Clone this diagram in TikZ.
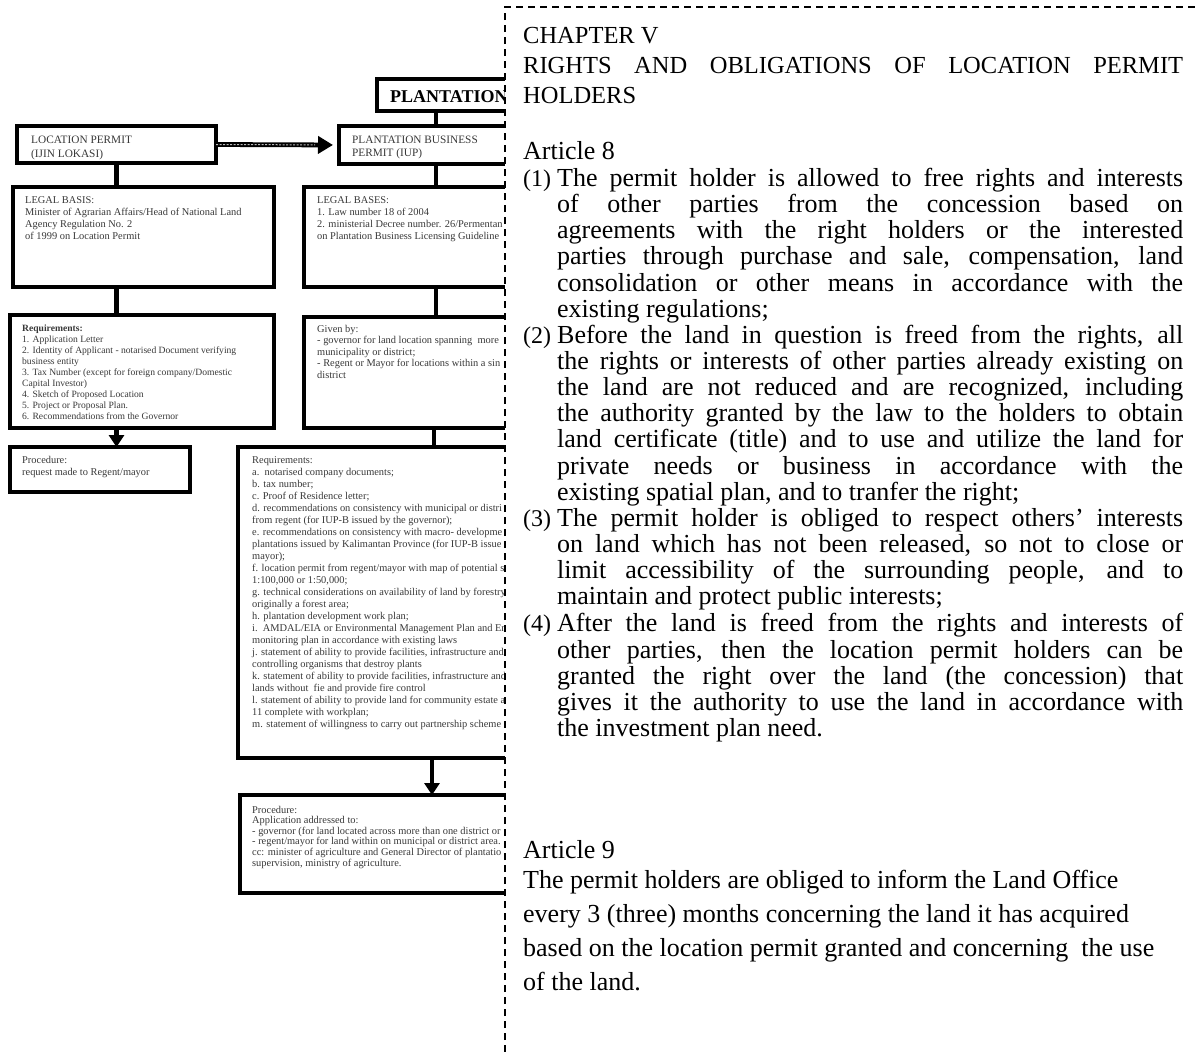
\documentclass[tikz,border=0pt]{standalone}
\usepackage{fontspec}
\newfontfamily\flowfont{Liberation Serif}
\newfontfamily\panelfont{Liberation Serif}
\usetikzlibrary{arrows.meta}

\begin{document}
\begin{tikzpicture}[x=1pt,y=-1pt,
  box/.style={draw=black, line width=3.2pt, anchor=north west, inner sep=0pt, outer sep=0pt},
  ftxt/.style={anchor=base west, inner sep=0pt, text=black!78, font=\flowfont\fontsize{10.4}{12}\selectfont},
  fhead/.style={ftxt, font=\flowfont\fontsize{11.3}{13}\selectfont},
  link/.style={line width=4.5pt},
  downarrow/.style={line width=4.5pt, -{Triangle[length=12pt,width=15pt]}},
  ptxt/.style={anchor=base west, inner sep=0pt, text=black, font=\panelfont\fontsize{26}{26}\selectfont},
  plabel/.style={ptxt, font=\panelfont\fontsize{24}{26}\selectfont},
  phead/.style={ptxt, font=\panelfont\fontsize{24.5}{26}\selectfont},
]
\useasboundingbox (0,0) rectangle (1197,1052);

% ---------------- location permit column ----------------
\node[box, minimum width=199pt, minimum height=37pt] (locbox) at (17,126) {};
\node[fhead] (loct1) at (31,143) {LOCATION PERMIT};
\node[fhead] (loct2) at (31,157) {(IJIN LOKASI)};

\node[box, minimum width=261pt, minimum height=100pt] (loclegal) at (13,187) {};
\foreach \t [count=\i] in {{LEGAL BASIS:},{Minister of Agrarian Affairs/Head of National Land},
  {Agency Regulation No. 2},{of 1999 on Location Permit}}
  \node[ftxt] (loclegal\i) at (25,{203+12.3*(\i-1)}) {\t};

\node[box, minimum width=264pt, minimum height=113pt] (locreq) at (10,315) {};
\foreach \t [count=\i] in {{\bfseries Requirements:},{1. Application Letter},
  {2. Identity of Applicant - notarised Document verifying},{business entity},
  {3. Tax Number (except for foreign company/Domestic},{Capital Investor)},
  {4. Sketch of Proposed Location},{5. Project or Proposal Plan.},
  {6. Recommendations from the Governor}}
  \node[ftxt, font=\flowfont\fontsize{9.6}{11}\selectfont] (locreq\i) at (22,{331+11*(\i-1)}) {\t};

\node[box, minimum width=180pt, minimum height=45pt] (locproc) at (10,447) {};
\node[ftxt] (locproc1) at (22,463) {Procedure:};
\node[ftxt] (locproc2) at (22,475) {request made to Regent/mayor};

\draw[link] (locbox.south) -- (locbox.south |- loclegal.north);
\draw[link] (loclegal.south -| locbox.south) -- (locreq.north -| locbox.south);
\draw[downarrow] (locreq.south -| locbox.south) -- (locproc.north -| locbox.south);

% ---------------- plantation business permit column ----------------
\coordinate (spineA) at (436,0);
\coordinate (spineB) at (434,0);
\coordinate (spineC) at (432,0);

\node[box, line width=4pt, minimum width=260pt, minimum height=32pt] (title) at (377,79) {};
\node[ftxt, text=black, font=\flowfont\bfseries\fontsize{18}{20}\selectfont] (titlet) at (390,102) {PLANTATION};

\node[box, minimum width=194pt, minimum height=38pt] (iup) at (339,126) {};
\node[fhead] (iupt1) at (352,143) {PLANTATION BUSINESS};
\node[fhead] (iupt2) at (352,156) {PERMIT (IUP)};

\node[box, minimum width=264pt, minimum height=100pt] (iuplegal) at (304,187) {};
\foreach \t [count=\i] in {{LEGAL BASES:},{1. Law number 18 of 2004},
  {2. ministerial Decree number. 26/Permentan},{on Plantation Business Licensing Guideline}}
  \node[ftxt] (iuplegal\i) at (317,{203+12*(\i-1)}) {\t};

\node[box, minimum width=264pt, minimum height=111pt] (given) at (304,317) {};
\foreach \t [count=\i] in {{Given by:},{- governor for land location spanning\ \ more},
  {municipality or district;},{- Regent or Mayor for locations within a sin},{district}}
  \node[ftxt] (given\i) at (317,{332+11.6*(\i-1)}) {\t};

\node[box, minimum width=392pt, minimum height=311pt] (iupreq) at (238,447) {};
\foreach \t [count=\i] in {{Requirements:},{a.\ \ notarised company documents;},{b. tax number;},
  {c. Proof of Residence letter;},
  {d. recommendations on consistency with municipal or distri},
  {from regent (for IUP-B issued by the governor);},
  {e. recommendations on consistency with macro- developme},
  {plantations issued by Kalimantan Province (for IUP-B issue},
  {mayor);},
  {f. location permit from regent/mayor with map of potential s},
  {1:100,000 or 1:50,000;},
  {g. technical considerations on availability of land by forestry},
  {originally a forest area;},
  {h. plantation development work plan;},
  {i.\ \ AMDAL/EIA or Environmental Management Plan and En},
  {monitoring plan in accordance with existing laws},
  {j. statement of ability to provide facilities, infrastructure and},
  {controlling organisms that destroy plants},
  {k. statement of ability to provide facilities, infrastructure and},
  {lands without\ \ fie and provide fire control},
  {l. statement of ability to provide land for community estate a},
  {11 complete with workplan;},
  {m. statement of willingness to carry out partnership scheme}}
  \node[ftxt] (iupreq\i) at (252,{463+12*(\i-1)}) {\t};

\node[box, minimum width=384pt, minimum height=98pt] (iupproc) at (240,795) {};
\foreach \t [count=\i] in {{Procedure:},{Application addressed to:},
  {- governor (for land located across more than one district or},
  {- regent/mayor for land within on municipal or district area.},
  {cc: minister of agriculture and General Director of plantatio},
  {supervision, ministry of agriculture.}}
  \node[ftxt] (iupproc\i) at (252,{813+10.6*(\i-1)}) {\t};

\draw[link] (title.south -| spineA) -- (iup.north -| spineA);
\draw[link] (iup.south -| spineA) -- (iuplegal.north -| spineA);
\draw[link] (iuplegal.south -| spineA) -- (given.north -| spineA);
\draw[link] (given.south -| spineB) -- (iupreq.north -| spineB);
\draw[downarrow] (iupreq.south -| spineC) -- (iupproc.north -| spineC);

% permit to permit arrow
\draw[line width=4.8pt, -{Triangle[length=15pt,width=17pt]}, shorten >=6pt] (locbox.east) -- (iup.west);
\draw[gray!55, line width=1pt, dash pattern=on 2pt off 1.5pt, shorten >=24pt] (locbox.east) -- (iup.west);

% ---------------- chapter text panel ----------------
\fill[white] (505,7) rectangle (1197,1052);
\draw[line width=2pt, dash pattern=on 7pt off 5pt] (505,1052) -- (505,7) -- (1197,7);

\node[phead] (chap) at (523,43.5) {CHAPTER V};
\node[phead] (chapt1) at (523,73.5) {\makebox[660pt][s]{RIGHTS AND OBLIGATIONS OF LOCATION PERMIT}};
\node[phead] (chapt2) at (523,103.5) {HOLDERS};

\node[ptxt] (art8) at (523,159) {Article 8};

\node[plabel] (lab1) at (523,186.5) {(1)};
\node[ptxt] (a8l1) at (557,186.5) {\makebox[626pt][s]{The permit holder is allowed to free rights and interests}};
\node[ptxt] (a8l2) at (557,212.6) {\makebox[626pt][s]{of other parties from the concession based on}};
\node[ptxt] (a8l3) at (557,238.8) {\makebox[626pt][s]{agreements with the right holders or the interested}};
\node[ptxt] (a8l4) at (557,264.9) {\makebox[626pt][s]{parties through purchase and sale, compensation, land}};
\node[ptxt] (a8l5) at (557,291.1) {\makebox[626pt][s]{consolidation or other means in accordance with the}};
\node[ptxt] (a8l6) at (557,317.2) {existing regulations;};

\node[plabel] (lab2) at (523,343.3) {(2)};
\node[ptxt] (a8l7) at (557,343.3) {\makebox[626pt][s]{Before the land in question is freed from the rights, all}};
\node[ptxt] (a8l8) at (557,369.5) {\makebox[626pt][s]{the rights or interests of other parties already existing on}};
\node[ptxt] (a8l9) at (557,395.6) {\makebox[626pt][s]{the land are not reduced and are recognized, including}};
\node[ptxt] (a8l10) at (557,421.8) {\makebox[626pt][s]{the authority granted by the law to the holders to obtain}};
\node[ptxt] (a8l11) at (557,447.9) {\makebox[626pt][s]{land certificate (title) and to use and utilize the land for}};
\node[ptxt] (a8l12) at (557,474.0) {\makebox[626pt][s]{private needs or business in accordance with the}};
\node[ptxt] (a8l13) at (557,500.2) {existing spatial plan, and to tranfer the right;};

\node[plabel] (lab3) at (523,526.3) {(3)};
\node[ptxt] (a8l14) at (557,526.3) {\makebox[626pt][s]{The permit holder is obliged to respect others’ interests}};
\node[ptxt] (a8l15) at (557,552.5) {\makebox[626pt][s]{on land which has not been released, so not to close or}};
\node[ptxt] (a8l16) at (557,578.6) {\makebox[626pt][s]{limit accessibility of the surrounding people, and to}};
\node[ptxt] (a8l17) at (557,604.2) {maintain and protect public interests;};

\node[plabel] (lab4) at (523,631.9) {(4)};
\node[ptxt] (a8l18) at (557,631.9) {\makebox[626pt][s]{After the land is freed from the rights and interests of}};
\node[ptxt] (a8l19) at (557,658.0) {\makebox[626pt][s]{other parties, then the location permit holders can be}};
\node[ptxt] (a8l20) at (557,684.1) {\makebox[626pt][s]{granted the right over the land (the concession) that}};
\node[ptxt] (a8l21) at (557,710.2) {\makebox[626pt][s]{gives it the authority to use the land in accordance with}};
\node[ptxt] (a8l22) at (557,736.3) {the investment plan need.};

\node[ptxt] (art9) at (523,858) {Article 9};
\node[ptxt] (a9l1) at (523,888) {The permit holders are obliged to inform the Land Office};
\node[ptxt] (a9l2) at (523,922) {every 3 (three) months concerning the land it has acquired};
\node[ptxt] (a9l3) at (523,956) {based on the location permit granted and concerning\ \ the use};
\node[ptxt] (a9l4) at (523,990) {of the land.};
\end{tikzpicture}
\end{document}
